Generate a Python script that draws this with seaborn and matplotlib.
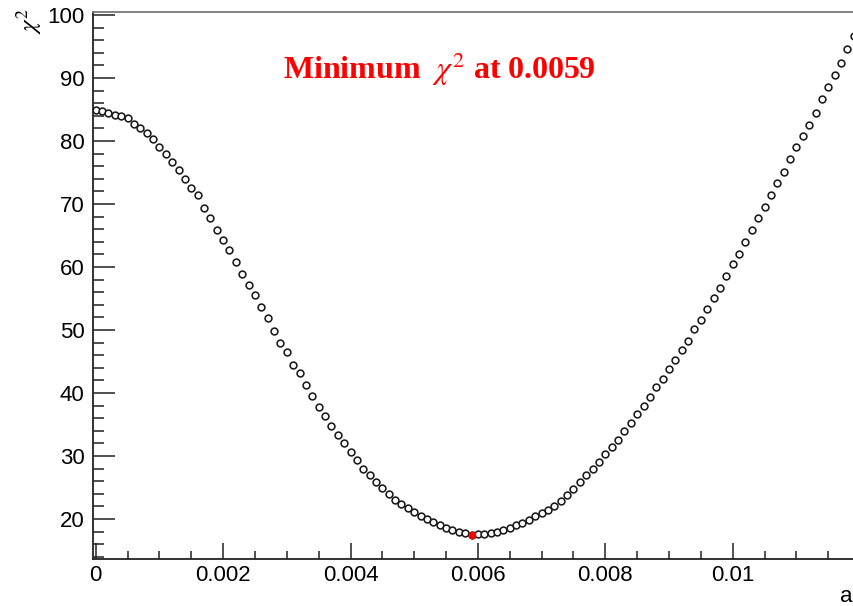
import numpy as np
import pandas as pd
import matplotlib
matplotlib.use("Agg")
import matplotlib.pyplot as plt
from matplotlib.ticker import MultipleLocator
import seaborn as sns

# chi2 scan over parameter a (step 0.0001, starting at 0)
chi2 = [
    84.9, 84.8, 84.5, 84.2, 83.9, 83.6, 82.7, 82.1, 81.2, 80.3,
    79.1, 77.9, 76.6, 75.4, 73.9, 72.5, 71.4, 69.4, 67.7, 65.9,
    64.3, 62.7, 60.8, 58.9, 57.1, 55.6, 53.6, 51.9, 49.9, 48.0,
    46.5, 44.4, 43.2, 41.3, 39.5, 37.8, 36.3, 34.8, 33.3, 32.0,
    30.6, 29.4, 28.0, 27.0, 25.9, 24.9, 24.0, 23.0, 22.3, 21.7,
    21.1, 20.5, 20.0, 19.5, 19.0, 18.6, 18.2, 17.9, 17.7, 17.5,
    17.55, 17.6, 17.8, 18.0, 18.3, 18.6, 19.0, 19.4, 19.9, 20.4,
    20.9, 21.5, 22.1, 22.9, 23.8, 24.8, 25.9, 27.0, 28.0, 29.1,
    30.3, 31.5, 32.6, 33.9, 35.2, 36.6, 37.9, 39.3, 40.9, 42.3,
    43.8, 45.3, 46.9, 48.3, 50.1, 51.6, 53.4, 55.1, 56.7, 58.6,
    60.4, 62.0, 63.9, 65.9, 67.8, 69.5, 71.4, 73.3, 75.1, 77.2,
    79.0, 80.8, 82.6, 84.4, 86.7, 88.5, 90.5, 92.4, 94.6, 96.6,
]
a_step = 0.0001
a_values = np.round(np.arange(len(chi2)) * a_step, 4)

x_ticks = [0.0, 0.002, 0.004, 0.006, 0.008, 0.010]
x_tick_labels = ["0", "0.002", "0.004", "0.006", "0.008", "0.01"]
y_ticks = [20, 30, 40, 50, 60, 70, 80, 90, 100]
y_tick_labels = ["20", "30", "40", "50", "60", "70", "80", "90", "100"]

df = pd.DataFrame({"a": a_values, "chi2": chi2})
i_min = int(np.argmin(chi2))
a_min = float(a_values[i_min])
chi2_min = chi2[i_min]

sns.set_theme(style="white")
plt.rcParams["font.family"] = ["Liberation Sans", "DejaVu Sans"]
plt.rcParams["mathtext.fontset"] = "stix"

W, H = 854, 606
fig = plt.figure(figsize=(W / 100, H / 100), dpi=100)
fig.patch.set_facecolor("white")
ax = fig.add_axes([93 / W, 46.7 / H, 1 - 93 / W, (594.5 - 46.7) / H])
ax.set_facecolor("white")

sns.scatterplot(data=df, x="a", y="chi2", ax=ax, marker="o", s=24,
                color="white", edgecolor="#1a1a1a", linewidth=1.15,
                legend=False, zorder=3)
sns.scatterplot(x=[a_min], y=[chi2_min], ax=ax, marker="o", s=30,
                color="#ff0000", linewidth=0, legend=False, zorder=4)

ax.set_xlim(-0.0000424, 0.011904)
ax.set_ylim(13.6, 100.56)

ax.set_xticks(x_ticks, x_tick_labels)
ax.set_yticks(y_ticks, y_tick_labels)
ax.xaxis.set_minor_locator(MultipleLocator(0.0005))
ax.yaxis.set_minor_locator(MultipleLocator(2))

ax.tick_params(which="both", direction="in", top=False, right=False,
               bottom=True, left=True, color="#222222", labelcolor="black")
ax.tick_params(axis="x", which="major", length=11.5, width=1.1,
               labelsize=16, pad=4)
ax.tick_params(axis="x", which="minor", length=5.8, width=1.1)
ax.tick_params(axis="y", which="major", length=15.8, width=1.1,
               labelsize=16, pad=6)
ax.tick_params(axis="y", which="minor", length=7.9, width=1.1)
ax.set_xlabel("")
ax.set_ylabel("")

ax.spines["right"].set_visible(False)
ax.spines["left"].set_color("#222222")
ax.spines["bottom"].set_color("#222222")
ax.spines["top"].set_color("#777777")
for side in ("left", "bottom", "top"):
    ax.spines[side].set_linewidth(1.3)

fig.text(283 / W, 1 - 79 / H, f"Minimum  $\\chi^{{2}}$ at {a_min:g}",
         color="#ff0000", fontsize=23, fontweight="bold",
         family="Liberation Serif", ha="left", va="baseline")
fig.text(29 / W, 1 - 8 / H, r"$\chi^{2}$", rotation=90, fontsize=18,
         ha="center", va="top", color="black")
fig.text(840 / W, 1 - 602 / H, "a", fontsize=16, ha="left", va="baseline",
         color="black")

fig.savefig("out.png", dpi=100)
